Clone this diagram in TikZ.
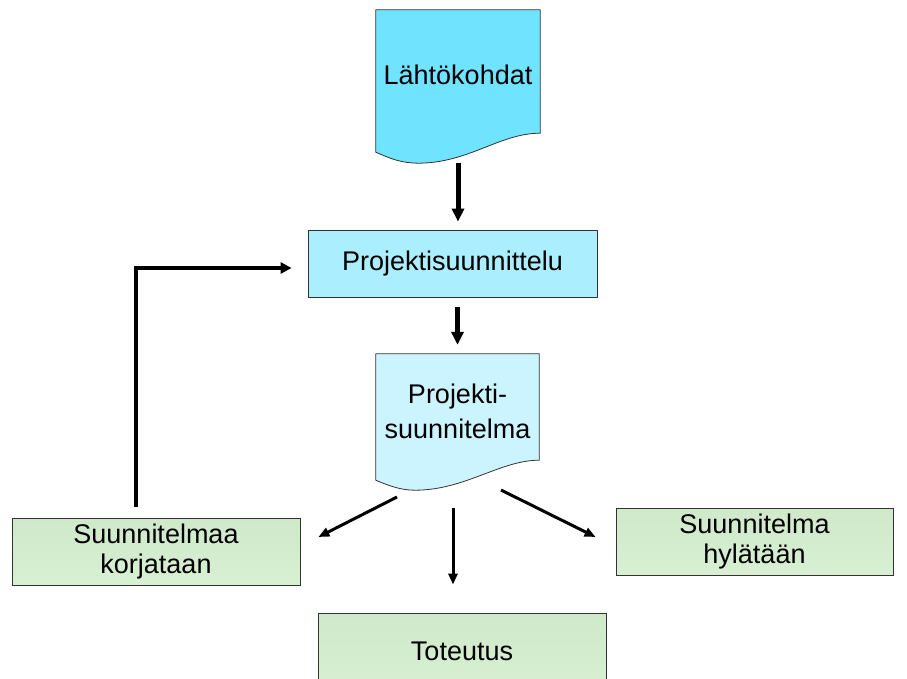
\documentclass[tikz,border=0pt]{standalone}
\usepackage{fontspec}
\setmainfont{Liberation Sans}
\usepackage{xcolor}
\usetikzlibrary{arrows.meta, positioning, calc}
\definecolor{cyanDark}{HTML}{6FE3FF}
\definecolor{cyanMid}{HTML}{ABEFFF}
\definecolor{cyanLight}{HTML}{CCF4FF}
\definecolor{greenEdge}{HTML}{D0E9CA}
\definecolor{greenCore}{HTML}{E4F9DF}
\tikzset{
  label/.style   = {rectangle, minimum width=164pt, align=center,
                    font=\fontsize{27}{32}\selectfont, inner sep=0pt},
  proc/.style    = {rectangle, draw=black!80, line width=0.8pt, align=center,
                    font=\fontsize{27}{30}\selectfont},
  result/.style  = {proc, top color=greenEdge, middle color=greenCore,
                    bottom color=greenEdge!60!greenCore},
  docpaper/.style= {draw=black!80, line width=0.8pt},
  flow/.style    = {-{Triangle[length=13pt, width=12pt]}, line width=5pt},
  fan/.style     = {-{Triangle[length=11pt, width=9pt]}, line width=3pt},
  back/.style    = {-{Triangle[length=11pt, width=11pt]}, line width=3.5pt},
}
\begin{document}
\begin{tikzpicture}[x=1pt, y=-1pt]
  \useasboundingbox (0,0) rectangle (907,679);

  % documents
  \node[label, minimum height=130pt] (lahto) at (458,75) {};
  \path[docpaper, fill=cyanDark] (lahto.north west) -- (lahto.north east)
    -- ([shift={(0,-7)}]lahto.south east)
    .. controls +(-40,0) and +(50,-1) .. ([shift={(-38,23)}]lahto.south)
    .. controls +(-20,0) and +(14,6) .. ([shift={(0,12)}]lahto.south west)
    -- cycle;
  \node[font=\fontsize{27}{32}\selectfont] at (lahto) {Lähtökohdat};

  \node[proc, fill=cyanMid, minimum width=289pt, minimum height=67pt]
    (psuun) at (452.5,263.5) {Projektisuunnittelu};

  \node[label, minimum width=163pt, minimum height=106pt] (plan) at (457.5,407) {};
  \path[docpaper, fill=cyanLight] (plan.north west) -- (plan.north east)
    -- (plan.south east)
    .. controls +(-39,0) and +(50,0) .. ([shift={(-42.5,30)}]plan.south)
    .. controls +(-15,0) and +(12,5) .. ([shift={(0,20)}]plan.south west)
    -- cycle;
  \node[align=center, font=\fontsize{27}{35}\selectfont, yshift=-4pt] at (plan)
    {Projekti-\\suunnitelma};

  % outcomes
  \node[result, minimum width=288pt, minimum height=67pt] (korj) at (156,551.5)
    {Suunnitelmaa\\korjataan};
  \node[result, minimum width=277pt, minimum height=67pt] (hyl) at (754.5,541.5)
    {Suunnitelma\\hylätään};
  \node[result, minimum width=288pt, minimum height=76pt] (tot) at (462,651)
    {Toteutus};

  \coordinate (fanL) at (397,497);
  \coordinate (fanM) at (453,508);
  \coordinate (fanR) at (501,490);

  \draw[flow] (lahto.south) ++(0,23) -- ([yshift=8pt]lahto.south |- psuun.north);
  \draw[flow] (plan.north |- psuun.south) ++(0,10) -- ([yshift=9pt]plan.north);
  \draw[fan] (fanL) -- ([shift={(18,-14.5)}]korj.east);
  \draw[fan] (fanM) -- ([yshift=28pt]fanM |- tot.north);
  \draw[fan] (fanR) -- ([shift={(-20,-4.5)}]hyl.west);
  \draw[back, shorten <=11pt, shorten >=16pt]
    ([xshift=-20pt]korj.north) |- ([yshift=-4.5pt]psuun.west);
\end{tikzpicture}
\end{document}
